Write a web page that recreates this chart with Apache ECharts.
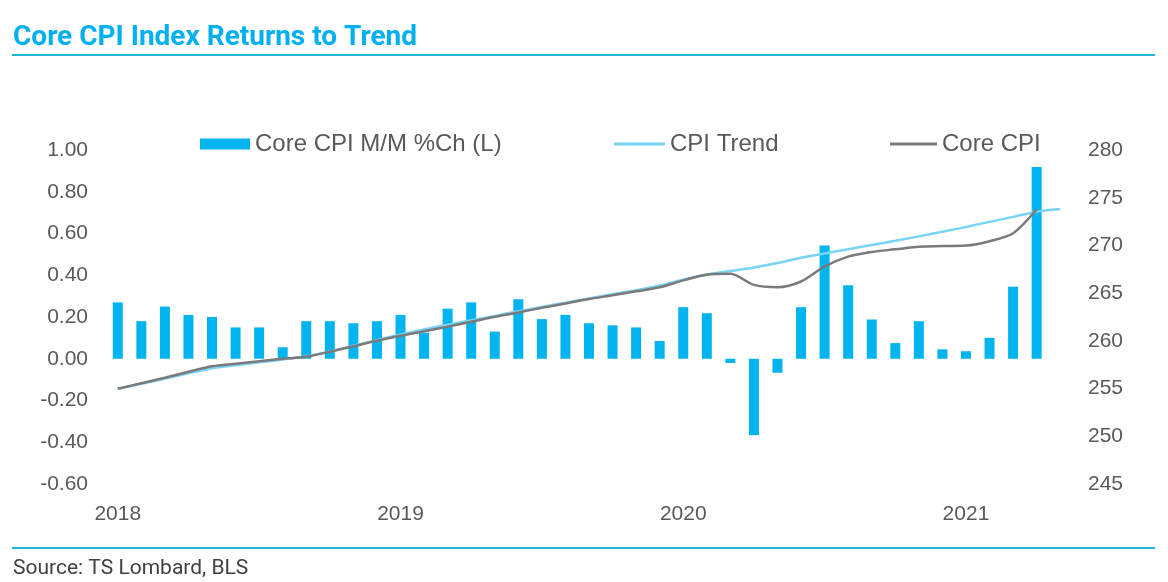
<!DOCTYPE html>
<html>
<head>
<meta charset="utf-8">
<script src="https://cdn.jsdelivr.net/npm/echarts@6/dist/echarts.min.js"></script>
<style>
html,body{margin:0;padding:0;background:#fff;}
#c{width:1168px;height:582px;}
</style>
</head>
<body>
<div id="c"></div>
<script>
var months = [
 '2018-01','2018-02','2018-03','2018-04','2018-05','2018-06','2018-07','2018-08','2018-09','2018-10','2018-11','2018-12',
 '2019-01','2019-02','2019-03','2019-04','2019-05','2019-06','2019-07','2019-08','2019-09','2019-10','2019-11','2019-12',
 '2020-01','2020-02','2020-03','2020-04','2020-05','2020-06','2020-07','2020-08','2020-09','2020-10','2020-11','2020-12',
 '2021-01','2021-02','2021-03','2021-04','2021-05'
];
var coreMoM = [
 0.27, 0.18, 0.25, 0.21, 0.20, 0.15, 0.15, 0.055, 0.18, 0.18, 0.17, 0.18,
 0.21, 0.125, 0.24, 0.27, 0.13, 0.285, 0.19, 0.21, 0.17, 0.16, 0.15, 0.085,
 0.247, 0.218, -0.02, -0.366, -0.067, 0.247, 0.543, 0.352, 0.188, 0.075, 0.18, 0.045,
 0.036, 0.10, 0.345, 0.919, null
];
var coreCPI = [
 254.98, 255.56, 256.14, 256.76, 257.34, 257.60, 257.86, 258.12, 258.33, 258.86, 259.43, 260.01,
 260.53, 261.00, 261.49, 262.00, 262.52, 262.98, 263.46, 263.91, 264.38, 264.77, 265.19, 265.61,
 266.34, 266.92, 267.02, 265.87, 265.63, 266.22, 267.79, 268.83, 269.32, 269.59, 269.87, 269.93,
 269.98, 270.44, 271.28, 273.79, null
];
var cpiTrend = [
 254.98, 255.50, 256.05, 256.60, 257.12, 257.45, 257.75, 258.05, 258.38, 258.90, 259.48, 260.08,
 260.68, 261.20, 261.70, 262.15, 262.62, 263.10, 263.55, 264.00, 264.45, 264.88, 265.30, 265.80,
 266.40, 266.95, 267.32, 267.69, 268.16, 268.71, 269.16, 269.60, 270.05, 270.48, 270.95, 271.43,
 271.94, 272.47, 272.99, 273.54, 273.81
];
var leftTicks = {min: -0.6, max: 1.0, interval: 0.2};
var rightTicks = {min: 245, max: 280, interval: 5};
var names = ['Core CPI M/M %Ch (L)', 'CPI Trend', 'Core CPI'];

var chart = echarts.init(document.getElementById('c'), null, {renderer: 'canvas'});
var axisFont = {color: '#595959', fontSize: 21, fontFamily: 'Liberation Sans, Arial, sans-serif'};
var legendText = {color: '#595959', fontSize: 24, fontFamily: 'Liberation Sans, Arial, sans-serif'};
var option = {
  backgroundColor: '#ffffff',
  animation: false,
  title: {
    text: 'Core CPI Index Returns to Trend',
    left: 13, top: 24, padding: 0,
    textStyle: {color: '#00b0f0', fontSize: 28, fontWeight: 'bold', fontFamily: 'Roboto, sans-serif'}
  },
  graphic: [
    {type: 'rect', shape: {x: 12, y: 54, width: 1143, height: 2}, style: {fill: '#21b7d7'}},
    {type: 'rect', shape: {x: 12, y: 547, width: 1143, height: 2}, style: {fill: '#21b7d7'}},
    {type: 'text', left: 13, top: 558, style: {text: 'Source: TS Lombard, BLS', fill: '#404040', fontSize: 21, fontFamily: 'Roboto, sans-serif'}}
  ],
  legend: [
    {data: [names[0]], left: 200, top: 132, padding: 0, itemWidth: 50, itemHeight: 11, icon: 'rect', itemGap: 0, textStyle: legendText},
    {data: [names[1]], left: 614, top: 132, padding: 0, itemWidth: 51, itemHeight: 3, icon: 'rect', itemGap: 0, textStyle: legendText},
    {data: [names[2]], left: 890, top: 132, padding: 0, itemWidth: 47, itemHeight: 3, icon: 'rect', itemGap: 0, textStyle: legendText}
  ],
  grid: {left: 106, right: 96, top: 150, bottom: 98, containLabel: false},
  xAxis: {
    type: 'category',
    data: months,
    boundaryGap: true,
    axisLine: {show: false},
    axisTick: {show: false},
    axisLabel: {
      interval: function (idx) { return idx % 12 === 0; },
      formatter: function (v) { return v.slice(0, 4); },
      margin: 20,
      color: '#595959', fontSize: 21, fontFamily: 'Liberation Sans, Arial, sans-serif'
    },
    splitLine: {show: false}
  },
  yAxis: [
    {
      type: 'value', position: 'left',
      min: leftTicks.min, max: leftTicks.max, interval: leftTicks.interval,
      axisLine: {show: false}, axisTick: {show: false}, splitLine: {show: false},
      axisLabel: Object.assign({margin: 18, formatter: function (v) { return v.toFixed(2); }}, axisFont)
    },
    {
      type: 'value', position: 'right',
      min: rightTicks.min, max: rightTicks.max, interval: rightTicks.interval,
      axisLine: {show: false}, axisTick: {show: false}, splitLine: {show: false},
      axisLabel: Object.assign({margin: 16}, axisFont)
    }
  ],
  series: [
    {
      name: names[0], type: 'bar', yAxisIndex: 0, data: coreMoM,
      barWidth: 10, itemStyle: {color: '#00b4f0'}, z: 1
    },
    {
      name: names[1], type: 'line', yAxisIndex: 1, data: cpiTrend,
      symbol: 'none', smooth: 0.2, itemStyle: {color: '#78d4f6'},
      lineStyle: {color: '#78d4f6', width: 2.5}, z: 2
    },
    {
      name: names[2], type: 'line', yAxisIndex: 1, data: coreCPI,
      symbol: 'none', smooth: 0.3, itemStyle: {color: '#7a7a7a'},
      lineStyle: {color: '#7a7a7a', width: 2.5}, z: 3
    }
  ]
};
chart.setOption(option);
</script>
</body>
</html>
